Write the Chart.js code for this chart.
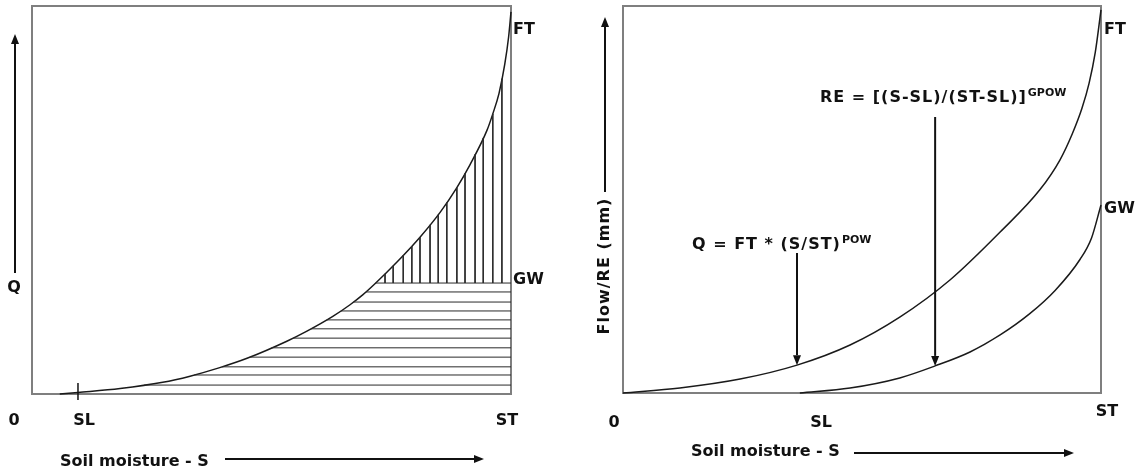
<!DOCTYPE html>
<html>
<head>
<meta charset="utf-8">
<script src="https://cdn.jsdelivr.net/npm/chart.js@4.4.0/dist/chart.umd.min.js"></script>
<style>
  html, body { margin: 0; padding: 0; background: #fff; }
  #wrap { position: relative; width: 1137px; height: 470px; }
  .panel { position: absolute; top: 0; height: 470px; }
  #left { left: 0; width: 568px; }
  #right { left: 568px; width: 569px; }
</style>
</head>
<body>
<div id="wrap">
  <div class="panel" id="left"><canvas id="leftChart" width="568" height="470"></canvas></div>
  <div class="panel" id="right"><canvas id="rightChart" width="569" height="470"></canvas></div>
</div>
<script>
// Left panel: Q curve, split into groundwater (vertical hatch) and runoff (horizontal hatch)
var leftCurveX = [0.058, 0.096, 0.184, 0.273, 0.330, 0.392, 0.449, 0.532, 0.574, 0.628, 0.664, 0.691, 0.716, 0.762, 0.810, 0.852, 0.887, 0.914, 0.950, 0.962, 0.975, 0.987, 0.995, 1.0];
var leftCurveY = [0.0, 0.004, 0.014, 0.030, 0.046, 0.068, 0.092, 0.136, 0.162, 0.200, 0.230, 0.256, 0.284, 0.340, 0.404, 0.468, 0.532, 0.590, 0.680, 0.722, 0.775, 0.850, 0.920, 0.985];
var gwLevel = 0.286;
var slValue = 0.096;
var hatchX = [0.737, 0.754, 0.775, 0.793, 0.810, 0.831, 0.848, 0.866, 0.887, 0.904, 0.925, 0.942, 0.962, 0.981];
var hatchY = [0.286, 0.263, 0.237, 0.214, 0.191, 0.168, 0.144, 0.119, 0.095, 0.070, 0.049, 0.023];

// Right panel: flow curve and recharge curve
var qCurveX = [0, 0.119, 0.245, 0.364, 0.475, 0.579, 0.684, 0.789, 0.872, 0.914, 0.940, 0.960, 0.975, 0.988, 1.0];
var qCurveY = [0, 0.013, 0.036, 0.072, 0.124, 0.196, 0.292, 0.416, 0.525, 0.602, 0.670, 0.735, 0.800, 0.880, 0.99];
var reCurveX = [0.370, 0.475, 0.579, 0.653, 0.726, 0.789, 0.851, 0.904, 0.956, 0.980, 1.0];
var reCurveY = [0, 0.013, 0.039, 0.070, 0.106, 0.150, 0.205, 0.265, 0.345, 0.400, 0.486];

var xTickLabels = ['0', 'SL', 'ST'];
var xAxisTitle = 'Soil moisture - S';

function toPoints(xs, ys) {
  return xs.map(function(x, i) { return { x: x, y: ys[i] }; });
}

// value of a curve at x (walk along the read points)
function curveAt(xs, ys, x) {
  for (var i = 1; i < xs.length; i++) {
    if (x <= xs[i]) {
      var t = (x - xs[i - 1]) / (xs[i] - xs[i - 1]);
      return ys[i - 1] + t * (ys[i] - ys[i - 1]);
    }
  }
  return ys[ys.length - 1];
}
function curveXAt(xs, ys, y) {
  for (var i = 1; i < ys.length; i++) {
    if (y <= ys[i]) {
      var t = (y - ys[i - 1]) / (ys[i] - ys[i - 1]);
      return xs[i - 1] + t * (xs[i] - xs[i - 1]);
    }
  }
  return xs[xs.length - 1];
}

// hatching as one dataset, segments split by nulls
var hatchPoints = [];
hatchX.forEach(function(x) {
  hatchPoints.push({ x: x, y: curveAt(leftCurveX, leftCurveY, x) });
  hatchPoints.push({ x: x, y: gwLevel });
  hatchPoints.push({ x: x, y: null });
});
hatchY.forEach(function(y) {
  hatchPoints.push({ x: curveXAt(leftCurveX, leftCurveY, y), y: y });
  hatchPoints.push({ x: 1, y: y });
  hatchPoints.push({ x: 1, y: null });
});

var FONT = 'bold 16px "DejaVu Sans", Verdana, sans-serif';
var SUP_FONT = 'bold 11px "DejaVu Sans", Verdana, sans-serif';

function arrow(ctx, x1, y1, x2, y2) {
  var ang = Math.atan2(y2 - y1, x2 - x1);
  var hl = 10, hw = 4;
  ctx.beginPath();
  ctx.moveTo(x1, y1);
  ctx.lineTo(x2 - hl * Math.cos(ang), y2 - hl * Math.sin(ang));
  ctx.stroke();
  ctx.beginPath();
  ctx.moveTo(x2, y2);
  ctx.lineTo(x2 - hl * Math.cos(ang) + hw * Math.sin(ang), y2 - hl * Math.sin(ang) - hw * Math.cos(ang));
  ctx.lineTo(x2 - hl * Math.cos(ang) - hw * Math.sin(ang), y2 - hl * Math.sin(ang) + hw * Math.cos(ang));
  ctx.closePath();
  ctx.fill();
}

function textWithSup(ctx, main, sup, x, y) {
  ctx.font = FONT;
  ctx.letterSpacing = '1px';
  ctx.textAlign = 'left';
  ctx.textBaseline = 'middle';
  ctx.fillText(main, x, y);
  var w = ctx.measureText(main).width;
  ctx.letterSpacing = '0px';
  ctx.font = SUP_FONT;
  ctx.fillText(sup, x + w + 1, y - 5);
}

// box frame first, then labels and arrows on top
var panelDecor = {
  id: 'panelDecor',
  beforeDatasetsDraw: function(chart) {
    var ctx = chart.ctx, a = chart.chartArea;
    ctx.save();
    ctx.strokeStyle = '#7f7f7f';
    ctx.lineWidth = 2;
    ctx.strokeRect(a.left, a.top, a.right - a.left, a.bottom - a.top);
    ctx.restore();
  },
  afterDatasetsDraw: function(chart, args, opts) {
    var ctx = chart.ctx;
    ctx.save();
    ctx.fillStyle = '#111';
    ctx.strokeStyle = '#111';
    ctx.lineWidth = 2;
    opts.draw(chart, ctx);
    ctx.restore();
  }
};

function label(ctx, txt, x, y, align) {
  ctx.font = FONT;
  ctx.textAlign = align || 'center';
  ctx.textBaseline = 'middle';
  ctx.fillText(txt, x, y);
}

function baseOptions(padding, drawFn) {
  return {
    responsive: false,
    animation: false,
    devicePixelRatio: 1,
    layout: { padding: padding },
    scales: {
      x: { type: 'linear', min: 0, max: 1, display: false },
      y: { type: 'linear', min: 0, max: 1, display: false }
    },
    plugins: {
      legend: { display: false },
      tooltip: { enabled: false },
      panelDecor: { draw: drawFn }
    }
  };
}

var leftChart = new Chart(document.getElementById('leftChart').getContext('2d'), {
  type: 'scatter',
  data: {
    datasets: [{
      data: hatchPoints,
      showLine: true,
      spanGaps: false,
      borderColor: '#2a2a2a',
      borderWidth: 1,
      pointRadius: 0,
      clip: 4
    }, {
      data: toPoints(leftCurveX, leftCurveY),
      showLine: true,
      borderColor: '#1a1a1a',
      borderWidth: 1.5,
      pointRadius: 0,
      cubicInterpolationMode: 'monotone',
      clip: 4
    }]
  },
  options: baseOptions({ left: 32, top: 6, right: 57, bottom: 76 }, function(chart, ctx) {
    var xs = chart.scales.x, ys = chart.scales.y, a = chart.chartArea;
    // SL tick
    ctx.lineWidth = 1.5;
    ctx.beginPath();
    ctx.moveTo(xs.getPixelForValue(slValue), a.bottom - 11);
    ctx.lineTo(xs.getPixelForValue(slValue), a.bottom + 6);
    ctx.stroke();
    ctx.lineWidth = 2;
    label(ctx, xTickLabels[0], 14, 421);
    label(ctx, xTickLabels[1], 84, 421);
    label(ctx, xTickLabels[2], 507, 421);
    label(ctx, 'FT', 513, 30, 'left');
    label(ctx, 'GW', 513, 280, 'left');
    label(ctx, 'Q', 14, 288);
    arrow(ctx, 15, 273, 15, 34);
    label(ctx, xAxisTitle, 60, 462, 'left');
    arrow(ctx, 225, 459, 484, 459);
  }),
  plugins: [panelDecor]
});

var rightChart = new Chart(document.getElementById('rightChart').getContext('2d'), {
  type: 'scatter',
  data: {
    datasets: [{
      data: toPoints(qCurveX, qCurveY),
      showLine: true,
      borderColor: '#1a1a1a',
      borderWidth: 1.5,
      pointRadius: 0,
      cubicInterpolationMode: 'monotone',
      clip: 4
    }, {
      data: toPoints(reCurveX, reCurveY),
      showLine: true,
      borderColor: '#1a1a1a',
      borderWidth: 1.5,
      pointRadius: 0,
      cubicInterpolationMode: 'monotone',
      clip: 4
    }]
  },
  options: baseOptions({ left: 55, top: 6, right: 36, bottom: 77 }, function(chart, ctx) {
    var xs = chart.scales.x, ys = chart.scales.y;
    var off = 568;
    label(ctx, xTickLabels[0], 614 - off, 423);
    label(ctx, xTickLabels[1], 821 - off, 423);
    label(ctx, xTickLabels[2], 1107 - off, 412);
    label(ctx, 'FT', 1104 - off, 30, 'left');
    label(ctx, 'GW', 1104 - off, 209, 'left');
    label(ctx, xAxisTitle, 691 - off, 452, 'left');
    arrow(ctx, 854 - off, 453, 1074 - off, 453);
    // vertical axis title + arrow
    arrow(ctx, 605 - off, 192, 605 - off, 17);
    ctx.save();
    ctx.translate(605 - off, 266);
    ctx.rotate(-Math.PI / 2);
    ctx.letterSpacing = '1px';
    label(ctx, 'Flow/RE (mm)', 0, 0);
    ctx.letterSpacing = '0px';
    ctx.restore();
    // formulas with pointers onto the curves
    textWithSup(ctx, 'RE = [(S-SL)/(ST-SL)]', 'GPOW', 820 - off, 98);
    textWithSup(ctx, 'Q = FT * (S/ST)', 'POW', 692 - off, 245);
    var qx = 0.364, rx = 0.653;
    arrow(ctx, xs.getPixelForValue(qx), 253, xs.getPixelForValue(qx), ys.getPixelForValue(curveAt(qCurveX, qCurveY, qx)));
    arrow(ctx, xs.getPixelForValue(rx), 117, xs.getPixelForValue(rx), ys.getPixelForValue(curveAt(reCurveX, reCurveY, rx)));
  }),
  plugins: [panelDecor]
});
</script>
</body>
</html>
